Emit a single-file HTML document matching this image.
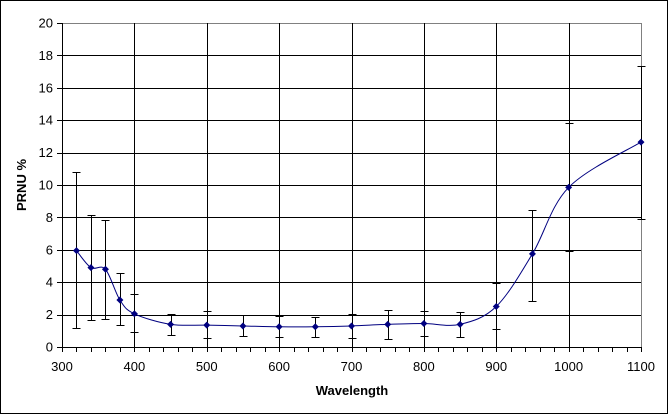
<!DOCTYPE html>
<html><head><meta charset="utf-8"><style>
html,body{margin:0;padding:0;background:#fff}
svg{display:block;font-family:"Liberation Sans",Arial,sans-serif}
#grid,#axes line,#axes path{shape-rendering:crispEdges}
</style></head><body>
<svg id="chart" width="669" height="415" viewBox="0 0 669 415" xmlns="http://www.w3.org/2000/svg">
<rect x="0.5" y="0.5" width="667" height="413" fill="#fff" stroke="#000"/>
<g id="grid"></g><g id="axes"></g><g id="series"></g>
<text x="352" y="395" font-size="13" font-weight="bold" text-anchor="middle">Wavelength</text>
<text transform="translate(26,185) rotate(-90)" font-size="13" font-weight="bold" text-anchor="middle">PRNU %</text>
</svg>
<script>
const wavelengths=[320,340,360,380,400,450,500,550,600,650,700,750,800,850,900,950,1000,1100];
const prnu=[5.95,4.9,4.8,2.9,2.05,1.4,1.35,1.3,1.25,1.25,1.3,1.4,1.45,1.4,2.5,5.75,9.85,12.65];
const errLow=[1.15,1.65,1.75,1.35,0.9,0.75,0.55,0.65,0.6,0.6,0.55,0.5,0.65,0.6,1.1,2.85,5.95,7.9];
const errHigh=[10.8,8.15,7.85,4.55,3.3,2.05,2.2,1.95,1.9,1.85,2.05,2.3,2.25,2.15,3.95,8.45,13.8,17.35];
const xTicks=[300,400,500,600,700,800,900,1000,1100];
const yTicks=[0,2,4,6,8,10,12,14,16,18,20];
const L=62,R=641,T=23,B=347;
const xs=v=>L+(v-300)/800*(R-L), ys=v=>B-v/20*(B-T);
const px=v=>Math.round(v)+0.5;
const NS="http://www.w3.org/2000/svg";
function mk(parent,tag,attrs){const e=document.createElementNS(NS,tag);for(const k in attrs)e.setAttribute(k,attrs[k]);document.getElementById(parent).appendChild(e);return e;}
yTicks.forEach(t=>{
 if(t>0){const g=mk('grid','line',{x1:L,x2:R,y1:px(ys(t)),y2:px(ys(t)),stroke:t==20?'#808080':'#000'});
 
 }
 const tk=mk('axes','line',{x1:L-5,x2:L,y1:px(ys(t)),y2:px(ys(t)),stroke:'#000'});
 
 
 const lb=mk('axes','text',{x:L-9,y:ys(t)+4.5,'font-size':13,'text-anchor':'end'});lb.textContent=t;
 
 
});
xTicks.forEach(t=>{
 if(t>300){const g=mk('grid','line',{x1:px(xs(t)),x2:px(xs(t)),y1:T,y2:B,stroke:t==1100?'#808080':'#000'});
 
 }
 const lb=mk('axes','text',{x:xs(t),y:371,'font-size':13,'text-anchor':'middle'});lb.textContent=t;
 
 
});
for(let v=300;v<=1100;v+=20){const tk=mk('axes','line',{x1:px(xs(v)),x2:px(xs(v)),y1:B,y2:B+5,stroke:'#000'});
 
 }
const ax=mk('axes','path',{d:`M${L+0.5},${T}V${B+0.5}H${R}`,stroke:'#000',fill:'none'});


wavelengths.forEach((w,i)=>{
 const x=px(xs(w)),a=px(ys(errLow[i])),b=px(ys(errHigh[i]));
 const e=mk('series','path',{d:`M${x},${a}V${b}M${x-4},${a}H${x+4}M${x-4},${b}H${x+4}`,stroke:'#000',fill:'none','shape-rendering':'crispEdges'});
 
 
});
const P=wavelengths.map((w,i)=>[xs(w),ys(prnu[i])]);
let d=`M${P[0][0]},${P[0][1]}`;
for(let i=0;i<P.length-1;i++){
 const p0=P[Math.max(0,i-1)],p1=P[i],p2=P[i+1],p3=P[Math.min(P.length-1,i+2)];
 const c1=[p1[0]+(p2[0]-p0[0])/6,p1[1]+(p2[1]-p0[1])/6],c2=[p2[0]-(p3[0]-p1[0])/6,p2[1]-(p3[1]-p1[1])/6];
 d+=`C${c1[0]},${c1[1]} ${c2[0]},${c2[1]} ${p2[0]},${p2[1]}`;
}
const ln=mk('series','path',{d,stroke:'#000080',fill:'none','stroke-width':1});


P.forEach(p=>{const m=mk('series','path',{d:`M${p[0]},${p[1]-3.5}L${p[0]+3.5},${p[1]}L${p[0]},${p[1]+3.5}L${p[0]-3.5},${p[1]}Z`,fill:'#000080'});
 
 });
</script>
</body></html>
